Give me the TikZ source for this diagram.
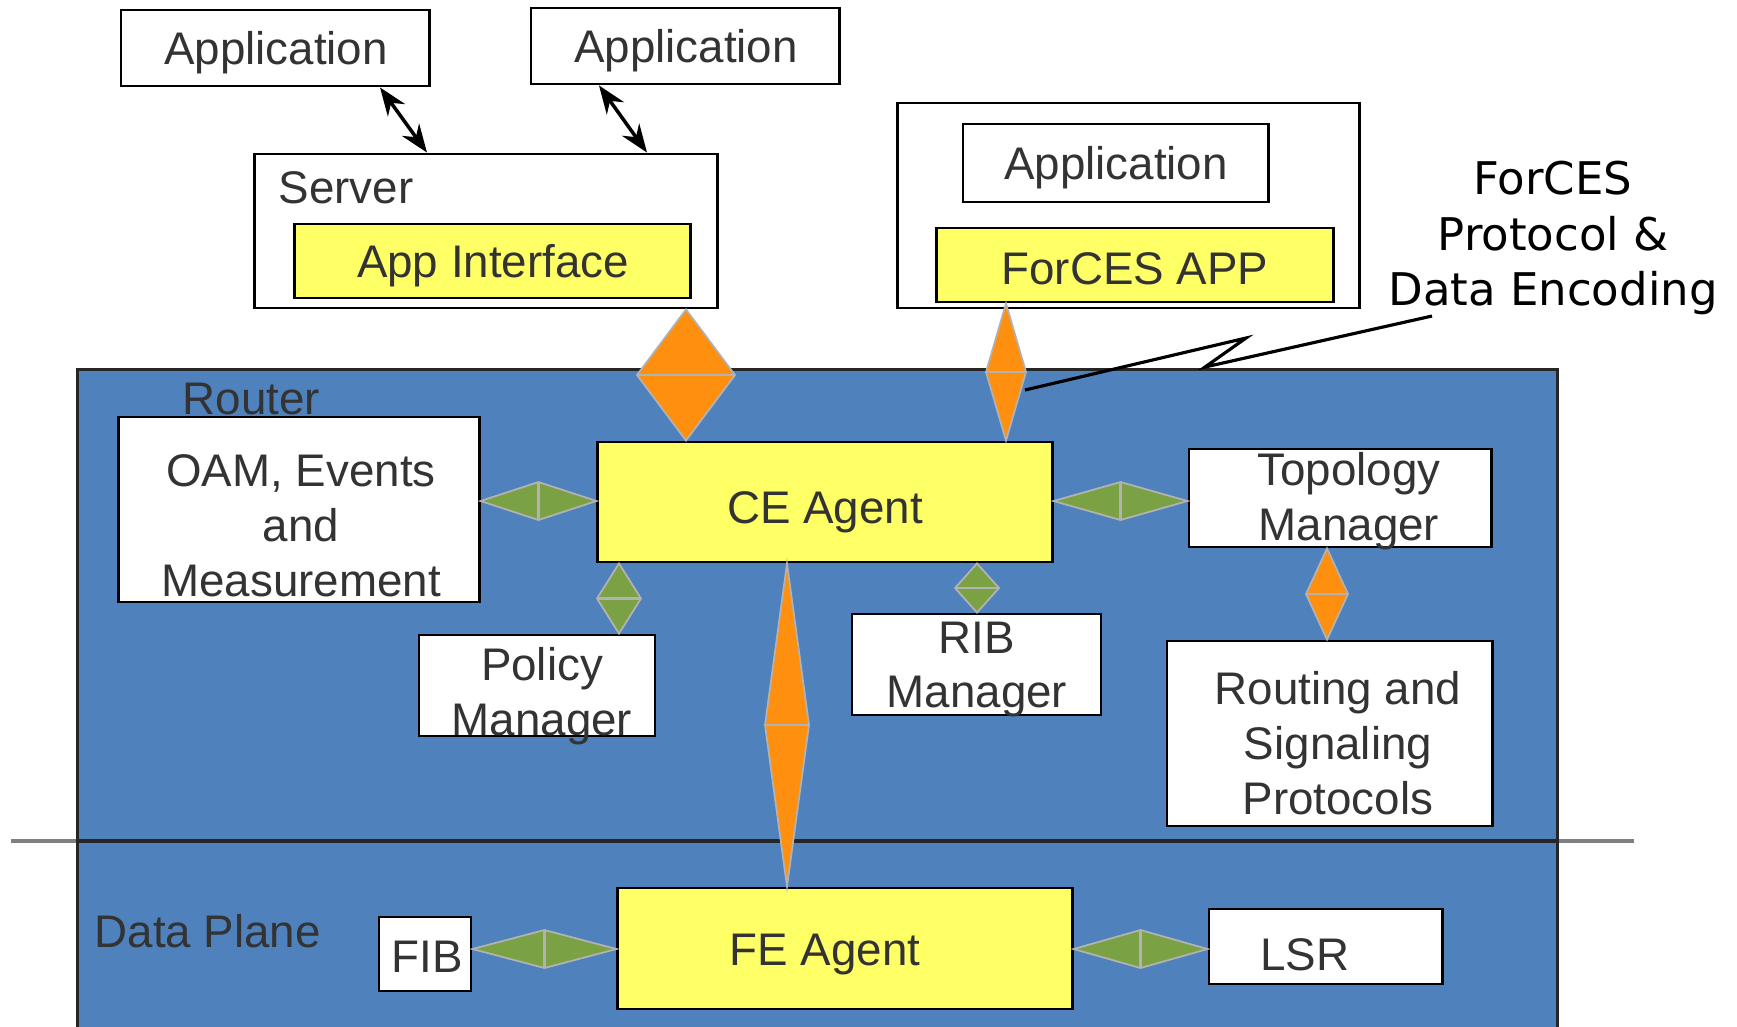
\documentclass[tikz,border=0pt]{standalone}
\usepackage{fontspec}
\setmainfont{Liberation Sans}
\newfontfamily\dejavu{DejaVu Sans}
\usetikzlibrary{calc,arrows.meta}
\definecolor{rblue}{HTML}{4F81BD}
\definecolor{byel}{HTML}{FFFF66}
\definecolor{dorange}{HTML}{FF8F0F}
\definecolor{dgreen}{HTML}{7AA244}
\definecolor{txt}{HTML}{333333}
% vertical diamond: colour, top, bottom, half width
\newcommand\vdiam[4]{%
  \path[fill=#1, draw=gray!60, line width=0.5pt] (#2) -- ($(#2)!0.5!(#3)+(#4,0)$) -- (#3) -- ($(#2)!0.5!(#3)-(#4,0)$) -- cycle;
  \draw[gray!60, line width=0.6pt] ($(#2)!0.5!(#3)+(#4,0)$) -- ($(#2)!0.5!(#3)-(#4,0)$);}
% horizontal diamond: colour, left, right, half height
\newcommand\hdiam[4]{%
  \path[fill=#1, draw=gray!60, line width=0.5pt] (#2) -- ($(#2)!0.5!(#3)+(0,#4)$) -- (#3) -- ($(#2)!0.5!(#3)-(0,#4)$) -- cycle;
  \draw[gray!60, line width=0.6pt] ($(#2)!0.5!(#3)+(0,#4)$) -- ($(#2)!0.5!(#3)-(0,#4)$);}
\begin{document}
\begin{tikzpicture}[x=0.01cm,y=-0.01cm,
  tx/.style={text=txt, font=\fontsize{13}{15.6}\selectfont, align=center, inner sep=0pt},
  box/.style={draw=black, line width=0.8pt, fill=white, inner sep=0pt, tx},
  ybox/.style={box, fill=byel},
  lowtext/.style={text depth=0.12cm, text height=0.42cm},
  dbl/.style={{Stealth[length=8pt,width=6pt]}-{Stealth[length=8pt,width=6pt]}, line width=1pt, black}]
\useasboundingbox[fill=white] (0,0) rectangle (1737,1026);

% top left
\node[box, minimum width=3.08cm, minimum height=0.76cm] (app1) at (275,48) {};
\node[tx] (app1t) at (276,53) {Application};
\node[box, minimum width=3.08cm, minimum height=0.76cm] (app2) at (685,46) {};
\node[tx] (app2t) at (686,51) {Application};
\node[box, minimum width=4.62cm, minimum height=1.54cm] (server) at (486,231) {};
\node[tx, anchor=west] (servt) at (278,188) {Server};
\node[ybox, minimum width=3.95cm, minimum height=0.74cm] (ai) at (492.5,261) {};
\node[tx] (ait) at (493,266) {App Interface};
\draw[dbl] (app1.south -| 380,0) -- (server.north -| 427,0);
\draw[dbl] (app2.south -| 599,0) -- (server.north -| 647,0);

% top right
\node[box, minimum width=4.61cm, minimum height=2.05cm] (fbox) at (1128.5,205.5) {};
\node[box, minimum width=3.05cm, minimum height=0.78cm] (app3) at (1115.5,163) {};
\node[tx] (app3t) at (1116,168) {Application};
\node[ybox, minimum width=3.96cm, minimum height=0.74cm] (fapp) at (1135,265) {};
\node[tx] (fappt) at (1135,269) {ForCES APP};
\node[font=\dejavu\fontsize{12.8}{15.9}\selectfont, align=center, text=black, inner sep=0pt] (forces) at (1553,238) {ForCES\\Protocol \&\\Data Encoding};

% router area
\node[draw=black!85, fill=rblue, line width=0.8pt, minimum width=14.79cm, minimum height=6.8cm, anchor=north west, inner sep=0pt] (router) at (76,368) {};
\node[tx, anchor=base west] (routert) at (182,414) {Router};
\node[tx, anchor=base west] (dplane) at (94,947) {Data Plane};
\coordinate (hl1) at (11,841);
\coordinate (hl2) at (1634,841);
\draw[gray, line width=1pt] (hl1) -- (hl2);
\draw[black!85, line width=1pt] (router.west |- hl1) -- (router.east |- hl1);

% boxes inside
\node[box, minimum width=3.60cm, minimum height=1.85cm] (oam) at (299,509.5) {};
\node[tx] (oamt) at (301,526) {OAM, Events\\and\\Measurement};
\node[ybox, minimum width=4.54cm, minimum height=1.20cm] (ce) at (825,502) {};
\node[tx] (cet) at (825,512) {CE Agent};
\node[box, minimum width=2.36cm, minimum height=1.01cm] (policy) at (537,685.5) {};
\node[tx] (policyt) at (542,696) {Policy\\Manager};
\node[box, minimum width=2.49cm, minimum height=1.01cm] (rib) at (976.5,664.5) {};
\node[tx] (ribt) at (977,669.5) {RIB\\Manager};
\node[box, minimum width=3.02cm, minimum height=0.98cm] (topo) at (1340,498) {};
\node[tx] (topot) at (1349,501.5) {Topology\\Manager};
\node[box, minimum width=3.25cm, minimum height=1.85cm] (routing) at (1329.5,733.5) {};
\node[tx] (routingt) at (1338,743) {Routing and\\Signaling\\Protocols};
\node[ybox, minimum width=4.54cm, minimum height=1.21cm] (fe) at (845,948.5) {};
\node[tx] (fet) at (825,954) {FE Agent};
\node[box, minimum width=0.92cm, minimum height=0.74cm] (fib) at (425,954) {};
\node[tx] (fibt) at (427,957) {FIB};
\node[box, minimum width=2.33cm, minimum height=0.75cm] (lsr) at (1325.5,946.5) {};
\node[tx] (lsrt) at (1305,955) {LSR};

% connectors (diamonds)
\vdiam{dorange}{server.south -| 686,0}{ce.north -| 686,0}{49}
\vdiam{dorange}{fapp.south -| 1006,0}{ce.north -| 1006,0}{20}
\hdiam{dgreen}{oam.east |- 0,501}{ce.west |- 0,501}{19}
\vdiam{dgreen}{ce.south -| 619,0}{policy.north -| 619,0}{22}
\vdiam{dorange}{ce.south -| 787,0}{fe.north -| 787,0}{22}
\vdiam{dgreen}{ce.south -| 977,0}{rib.north -| 977,0}{22}
\hdiam{dgreen}{ce.east |- 0,501}{topo.west |- 0,501}{19}
\vdiam{dorange}{topo.south -| 1327,0}{routing.north -| 1327,0}{21}
\hdiam{dgreen}{fib.east |- 0,949}{fe.west |- 0,949}{19}
\hdiam{dgreen}{fe.east |- 0,949}{lsr.west |- 0,949}{19}

% callout
\coordinate (co1) at (1432,316);
\coordinate (co2) at (1205,367);
\coordinate (co3) at (1246,338);
\coordinate (co4) at (1025,390);
\draw[black, line width=0.9pt] (co1) -- (co2) -- (co3) -- (co4);
\end{tikzpicture}
\end{document}
